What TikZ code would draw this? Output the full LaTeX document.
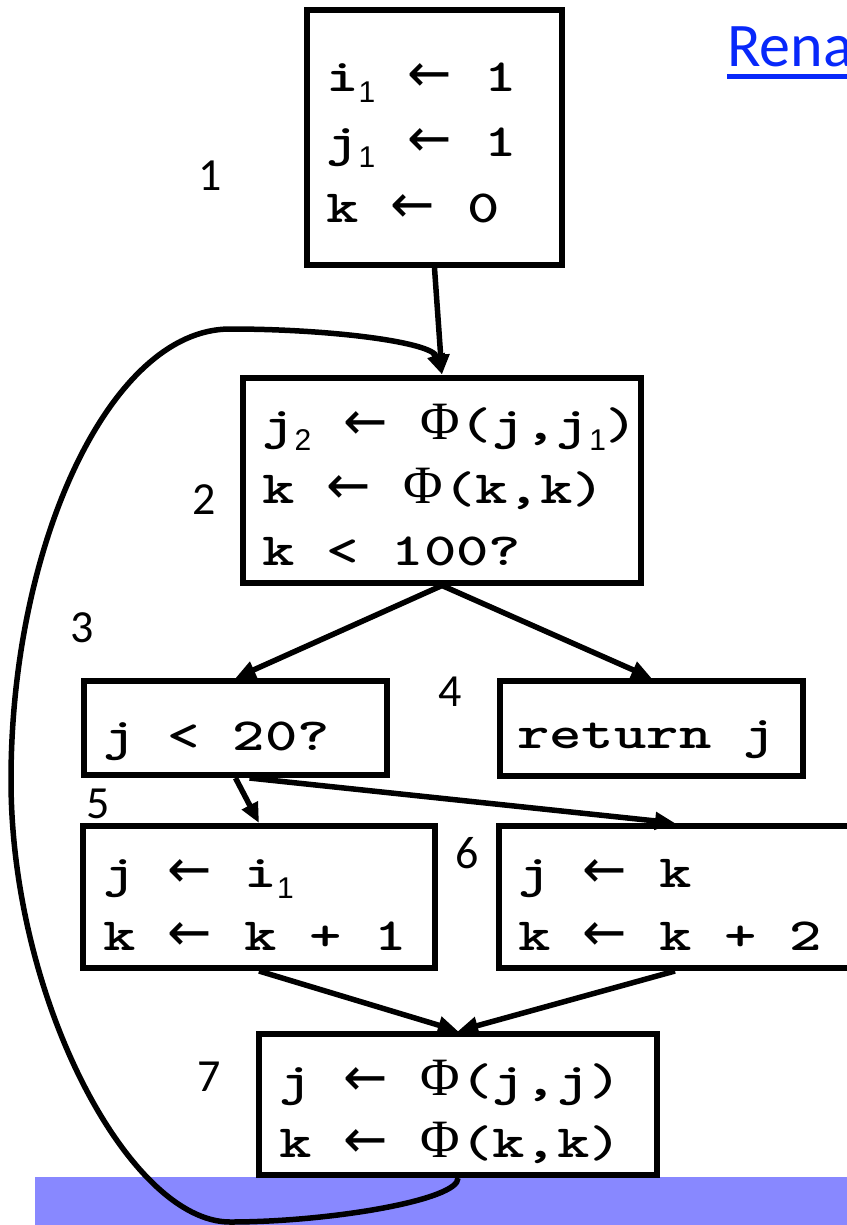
\documentclass[tikz,border=0pt]{standalone}
\usepackage{fontspec}
\setmainfont{Carlito}
\newfontfamily\codefont{lmmonolt10-bold.otf}[FakeStretch=1.34]
\newfontfamily\serfont{Liberation Serif}
\newfontfamily\arrfont{DejaVu Sans}
\newfontfamily\subfont{Liberation Sans}
\usetikzlibrary{arrows.meta}
\definecolor{barblue}{RGB}{136,136,255}
\definecolor{linkblue}{RGB}{8,40,250}
\newcommand\la{{\arrfont\fontsize{53}{53}\selectfont ←}}
\newcommand\ph{{\serfont\fontsize{54}{54}\selectfont Φ}}
\newcommand\sbs[1]{\raisebox{-11pt}{\subfont\fontsize{30}{30}\selectfont #1}}
\tikzset{
  box/.style={draw, line width=6pt, fill=white, inner sep=0pt},
  code/.style={anchor=base west, inner sep=0pt, font=\codefont\fontsize{46}{46}\selectfont},
  lbl/.style={inner sep=0pt, font=\fontsize{46}{46}\selectfont},
  conn/.style={line width=5.5pt, -{Triangle[length=20pt,width=17pt]}},
}
\begin{document}
\begin{tikzpicture}[x=1pt,y=-1pt]
\useasboundingbox (0,0) rectangle (846,1225);
\fill[barblue] (35,1177) rectangle (860,1235);
% title
\node[anchor=base west, inner sep=0pt, text=linkblue, font=\fontsize{62}{62}\selectfont] (title) at (727,67) {Rena};
\draw[linkblue, line width=5pt] ([yshift=-10pt]title.base west) -- ([yshift=-10pt,xshift=20pt]title.base east);
% boxes
\node[box, minimum width=255pt, minimum height=255pt] (b1) at (434.5,137.5) {};
\node[box, minimum width=398pt, minimum height=205pt] (b2) at (442,480) {};
\node[box, minimum width=303pt, minimum height=94pt] (b3) at (235.5,728) {};
\node[box, minimum width=303pt, minimum height=95pt] (b4) at (651.5,728.5) {};
\node[box, minimum width=352pt, minimum height=142pt] (b5) at (259,897) {};
\node[box, minimum width=352pt, minimum height=142pt] (b6) at (675,897) {};
\node[box, minimum width=398pt, minimum height=141pt] (b7) at (458,1104.5) {};
% code text
\node[code] (t11) at (326,92) {i\sbs{1} \la{} 1};
\node[code] (t12) at (326,157) {j\sbs{1} \la{} 1};
\node[code] (t13) at (326,222) {k \la{} 0};
\node[code] (t21) at (262,439) {j\sbs{2} \la{} \ph(j,j\sbs{1})};
\node[code] (t22) at (262,503) {k \la{} \ph(k,k)};
\node[code] (t23) at (262,565) {k < 100?};
\node[code] (t31) at (103,750) {j < 20?};
\node[code] (t41) at (517,748) {return j};
\node[code] (t51) at (103,887) {j \la{} i\sbs{1}};
\node[code] (t52) at (103,950) {k \la{} k + 1};
\node[code] (t61) at (518,887) {j \la{} k};
\node[code] (t62) at (518,950) {k \la{} k + 2};
\node[code] (t71) at (279,1095) {j \la{} \ph(j,j)};
\node[code] (t72) at (279,1157) {k \la{} \ph(k,k)};
% block labels
\node[lbl] (l1) at (210,176) {1};
\node[lbl] (l2) at (204,500) {2};
\node[lbl] (l3) at (82,628) {3};
\node[lbl] (l4) at (450,692) {4};
\node[lbl] (l5) at (98,804) {5};
\node[lbl] (l6) at (467,853) {6};
\node[lbl] (l7) at (209,1077) {7};
% connectors
\draw[conn] (b1.south) -- (b2.north);
\draw[conn] (b2.south) -- (b3.north);
\draw[conn] (b2.south) -- (b4.north);
\draw[conn] (b3.south) -- (b5.north);
\draw[conn] ([xshift=14pt]b3.south) -- (b6.north);
\draw[conn] (b5.south) -- (b7.north);
\draw[conn] (b6.south) -- (b7.north);
\draw[conn] (b7.south) .. controls (459,1200) and (330,1222) .. (230,1222)
  .. controls (130,1222) and (11,1000) .. (11,780)
  .. controls (11,545) and (110,329) .. (230,329)
  .. controls (330,329) and (432,342) .. (b2.north);
\end{tikzpicture}
\end{document}
